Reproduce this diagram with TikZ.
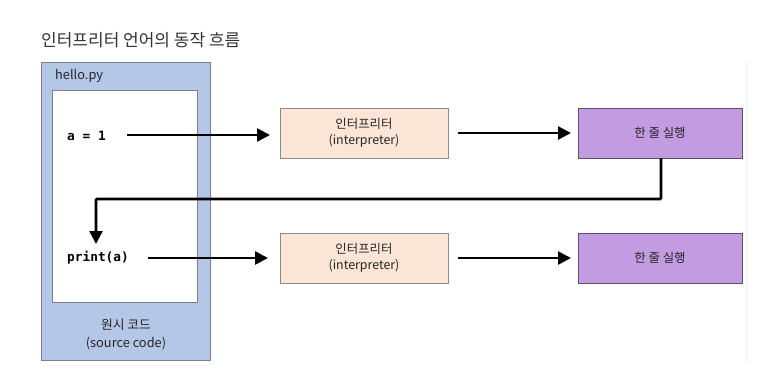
\documentclass[tikz,border=0pt]{standalone}
\usepackage{fontspec}
\setmainfont{Noto Sans CJK KR}
\newfontfamily\codefont{DejaVu Sans Mono}
\usetikzlibrary{arrows.meta}
\definecolor{srcblue}{HTML}{B4C7E7}
\definecolor{srcedge}{HTML}{7F7F8C}
\definecolor{peach}{HTML}{FBE5D6}
\definecolor{peachedge}{HTML}{8C8C8C}
\definecolor{lilac}{HTML}{C39BE0}
\definecolor{lilacedge}{HTML}{5E4E6E}
\definecolor{titlegray}{HTML}{333333}
\tikzset{
  x=1pt, y=-1pt,
  interp/.style={draw=peachedge, fill=peach, line width=0.8pt, minimum width=168pt, minimum height=50pt, inner sep=0pt, align=center, font=\fontsize{12.4}{16}\selectfont, text=black!85},
  runbox/.style={draw=lilacedge, fill=lilac, line width=0.8pt, minimum width=164pt, minimum height=50pt, inner sep=0pt, align=center, font=\fontsize{12.4}{16}\selectfont, text=black!85},
  code/.style={inner sep=0pt, anchor=west, font=\codefont\bfseries\fontsize{12.8}{15}\selectfont},
  flow/.style={line width=2.6pt, -{Triangle[length=13pt, width=13pt]}},
}
\begin{document}
\begin{tikzpicture}
\useasboundingbox (0,0) rectangle (779,389);
\fill[white] (0,0) rectangle (779,389);
% faint page edge
\draw[color=black!6, line width=1pt] (746,60) -- (746,362);
% title
\node[anchor=west, inner sep=0pt, text=titlegray, font=\fontsize{17}{20}\selectfont] (title) at (41,40) {인터프리터 언어의 동작 흐름};
% source file box
\draw[draw=srcedge, fill=srcblue, line width=0.8pt] (41,62) rectangle (210,360);
\node[anchor=west, inner sep=0pt, font=\fontsize{12.8}{15}\selectfont, text=black!85] (fname) at (55,76) {hello.py};
\draw[draw=srcedge, fill=white, line width=0.8pt] (52,90) rectangle (197,302);
\node[align=center, inner sep=0pt, font=\fontsize{12.8}{18}\selectfont, text=black!85] (srclabel) at (126,334) {원시 코드\\(source code)};
% code lines
\node[code] (l1) at (67,136) {a = 1};
\node[code] (l2) at (67,258) {print(a)};
% boxes
\node[interp] (i1) at (364,133) {인터프리터\\(interpreter)};
\node[runbox] (r1) at (660,133) {한 줄 실행};
\node[interp] (i2) at (364,258) {인터프리터\\(interpreter)};
\node[runbox] (r2) at (660,258) {한 줄 실행};
% connector end points
\coordinate (s1) at (127,135);
\coordinate (e1) at (270,135);
\coordinate (s3) at (458,133);
\coordinate (e3) at (571,133);
\coordinate (s2) at (148,258);
\coordinate (e2) at (268,258);
\coordinate (s4) at (458,258);
\coordinate (e4) at (571,258);
\coordinate (bend) at (661,199);
\coordinate (tip) at (96,244);
% connectors
\draw[flow] (s1) -- (e1);
\draw[flow] (s3) -- (e3);
\draw[flow] (s2) -- (e2);
\draw[flow] (s4) -- (e4);
\draw[flow, rounded corners=1pt] (r1.south -| bend) -- (bend) -| (tip);
\end{tikzpicture}
\end{document}
